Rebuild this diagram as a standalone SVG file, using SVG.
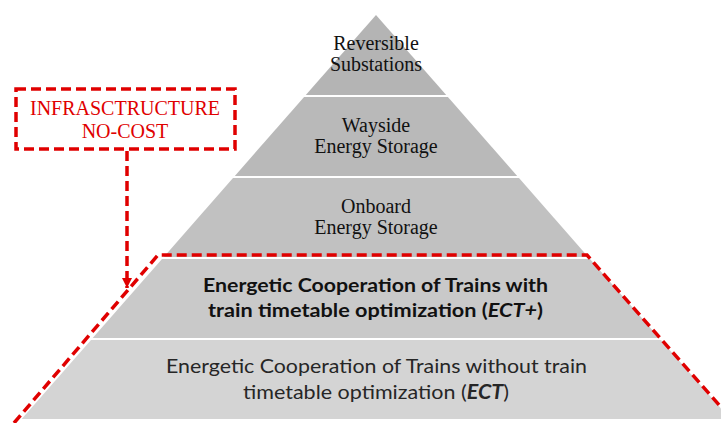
<svg xmlns="http://www.w3.org/2000/svg" width="721" height="423" viewBox="0 0 721 423">
<defs>
<style>
.serif{font-family:"Liberation Serif","Times New Roman",serif;font-size:20px;fill:#111;text-anchor:middle}
.red{font-family:"Liberation Serif","Times New Roman",serif;font-size:20px;fill:#e00000;text-anchor:middle}
.sansb{font-family:Lato,"Noto Sans",sans-serif;font-size:19px;font-weight:bold;fill:#111;text-anchor:middle}
.sans{font-family:Lato,"Noto Sans",sans-serif;font-size:20px;fill:#262626;text-anchor:middle}
.dash{fill:none;stroke:#e00000;stroke-width:3.5;stroke-dasharray:10 5}
</style>
<marker id="ah" markerWidth="12" markerHeight="10" refX="10" refY="5" orient="auto" markerUnits="userSpaceOnUse">
<path d="M0,0 L10,5 L0,10 Z" fill="#e00000"/>
</marker>
</defs>
<rect width="721" height="423" fill="#fff"/>
<g id="band1">
<polygon points="376,15 446.2,95 305.8,95" fill="#b4b4b4"/>
<text class="serif" x="376" y="50">Reversible</text>
<text class="serif" x="376" y="71">Substations</text>
</g>
<g id="band2">
<polygon points="304.1,97 447.9,97 517.2,176 234.8,176" fill="#b9b9b9"/>
<text class="serif" x="376" y="132">Wayside</text>
<text class="serif" x="376" y="153">Energy Storage</text>
</g>
<g id="band3">
<polygon points="233,178 519,178 588.2,257 163.8,257" fill="#c1c1c1"/>
<text class="serif" x="376" y="213">Onboard</text>
<text class="serif" x="376" y="234">Energy Storage</text>
</g>
<g id="band4">
<polygon points="162,259 590,259 659.3,338 92.7,338" fill="#c9c9c9"/>
<text class="sansb" x="375.5" y="292" textLength="345" lengthAdjust="spacingAndGlyphs">Energetic Cooperation of Trains with</text>
<text class="sansb" x="375.5" y="317" textLength="335" lengthAdjust="spacingAndGlyphs">train timetable optimization (<tspan font-style="italic">ECT+</tspan>)</text>
</g>
<g id="band5">
<polygon points="91,340 661,340 730.3,419 21.7,419" fill="#d4d4d4"/>
<text class="sans" x="376.5" y="373" textLength="421" lengthAdjust="spacingAndGlyphs">Energetic Cooperation of Trains without train</text>
<text class="sans" x="376" y="399" textLength="266" lengthAdjust="spacingAndGlyphs">timetable optimization (<tspan font-weight="bold" font-style="italic">ECT</tspan>)</text>
</g>
<g id="infrastructure">
<rect class="dash" x="16" y="89" width="219" height="60"/>
<text class="red" x="125" y="115">INFRASCTRUCTURE</text>
<text class="red" x="125" y="138">NO-COST</text>
</g>
<g id="connectors">
<path class="dash" d="M14,423 L158,255 L587,255 L735,423"/>
<path class="dash" d="M127,151 L127,288" marker-end="url(#ah)"/>
</g>
</svg>
